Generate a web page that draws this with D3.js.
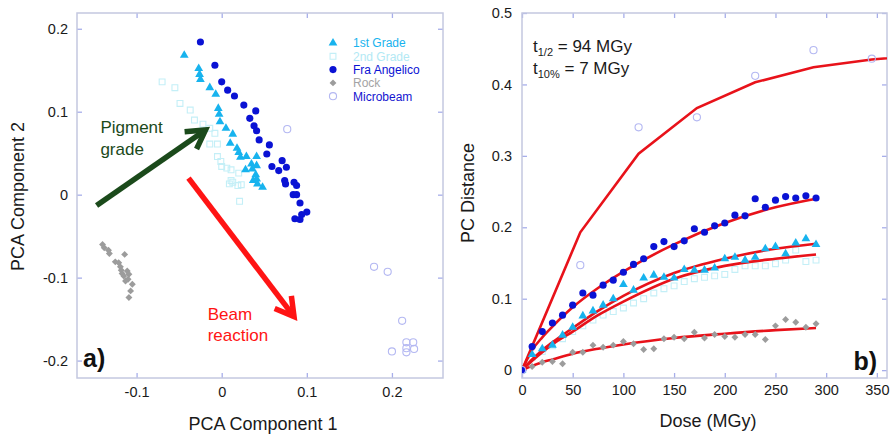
<!DOCTYPE html>
<html>
<head>
<meta charset="utf-8">
<script src="https://cdn.jsdelivr.net/npm/d3@7"></script>
<style>
  html, body { margin: 0; padding: 0; background: #fff; }
  svg { display: block; font-family: "Liberation Sans", Arial, Helvetica, sans-serif; }
</style>
</head>
<body>
<svg id="chart" width="892" height="435"></svg>
<script>
// ---------- Panel a: PCA scores [PC1, PC2] ----------
const firstGradePCA = [[-0.044,0.168],[-0.027,0.152],[-0.026,0.145],[-0.025,0.139],[-0.014,0.129],[-0.007,0.121],
  [-0.004,0.104],[-0.003,0.097],[-0.002,0.088],[0.005,0.080],[0.013,0.073],[0.010,0.062],[0.018,0.056],[0.020,0.051],
  [0.022,0.045],[0.029,0.046],[0.028,0.030],[0.035,0.037],[0.041,0.046],[0.041,0.035],[0.036,0.031],[0.040,0.024],
  [0.037,0.017],[0.041,0.019],[0.042,0.013],[0.048,0.009]];
const secondGradePCA = [[-0.070,0.136],[-0.055,0.129],[-0.049,0.110],[-0.037,0.102],[-0.032,0.090],[-0.022,0.085],
  [-0.014,0.080],[-0.008,0.074],[-0.014,0.061],[-0.005,0.061],[-0.005,0.046],[-0.001,0.040],[0.000,0.034],[0.006,0.032],
  [0.011,0.030],[0.020,0.026],[0.011,0.017],[0.013,0.015],[0.009,0.013],[0.019,0.011],[0.023,0.012],[0.021,-0.008]];
const fraAngelicoPCA = [[-0.025,0.184],[-0.008,0.156],[0.000,0.136],[0.007,0.126],[0.015,0.119],[0.026,0.108],
  [0.040,0.101],[0.033,0.092],[0.038,0.083],[0.041,0.077],[0.044,0.066],[0.056,0.060],[0.053,0.049],[0.071,0.041],
  [0.076,0.033],[0.059,0.034],[0.067,0.029],[0.074,0.017],[0.075,0.013],[0.085,0.015],[0.088,0.011],[0.084,0.000],
  [0.088,0.000],[0.092,-0.010],[0.100,-0.021],[0.094,-0.024],[0.086,-0.029],[0.092,-0.030]];
const rockPCA = [[-0.140,-0.060],[-0.138,-0.064],[-0.133,-0.067],[-0.132,-0.071],[-0.114,-0.072],[-0.125,-0.081],
  [-0.121,-0.082],[-0.119,-0.087],[-0.118,-0.091],[-0.111,-0.092],[-0.117,-0.095],[-0.109,-0.096],[-0.115,-0.098],
  [-0.110,-0.102],[-0.113,-0.104],[-0.105,-0.108],[-0.107,-0.116],[-0.109,-0.124]];
const microbeamPCA = [[0.077,0.079],[0.179,-0.087],[0.195,-0.093],[0.212,-0.152],[0.217,-0.178],[0.225,-0.178],
  [0.217,-0.185],[0.226,-0.186],[0.200,-0.189],[0.217,-0.190]];

const pcaTicksX = [-0.1, 0, 0.1, 0.2];
const pcaTicksY = [-0.2, -0.1, 0, 0.1, 0.2];

// Annotation arrows, in PCA coordinates [start, tip]
const gradeArrow = [[-0.147, -0.013], [-0.019, 0.078]];
const beamArrow = [[-0.039, 0.020], [0.085, -0.147]];

// ---------- Panel b: PC distance vs dose ----------
const doses = [0,10,20,30,40,50,60,70,80,90,100,110,120,130,140,150,160,170,180,190,200,210,220,230,240,250,260,270,280,290];
const fraAngelicoDist = [0,0.033,0.054,0.066,0.077,0.091,0.108,0.105,0.119,0.126,0.137,0.148,0.156,0.173,0.180,0.173,
  0.181,0.198,0.193,0.202,0.206,0.217,0.216,0.240,0.228,0.238,0.243,0.241,0.244,0.241];
const firstGradeDist = [0,0.022,0.030,0.035,0.049,0.060,0.076,0.083,0.091,0.100,0.120,0.112,0.129,0.133,0.130,0.129,
  0.141,0.140,0.140,0.143,0.156,0.158,0.154,0.158,0.170,0.173,0.163,0.178,0.184,0.176];
const secondGradeDist = [0,0.018,0.026,0.034,0.044,0.054,0.062,0.070,0.077,0.082,0.087,0.094,0.100,0.108,0.114,0.118,
  0.124,0.128,0.130,0.132,0.134,0.141,0.146,0.146,0.146,0.149,0.154,0.168,0.152,0.154];
const rockDist = [0,0.005,0.011,0.012,0.009,0.025,0.025,0.035,0.032,0.035,0.040,0.037,0.029,0.030,0.044,0.046,
  0.044,0.053,0.045,0.050,0.047,0.046,0.050,0.050,0.043,0.062,0.071,0.067,0.060,0.065];
const microbeamDoses = [0,57.5,115,172.5,230,287.5,345];
const microbeamDist = [0,0.147,0.340,0.354,0.412,0.448,0.436];

// Fitted dose-response curves
const fitDoses = [0,10,20,30,50,75,100,150,200,250,290];
const fraAngelicoFit = [0,0.028,0.046,0.061,0.088,0.115,0.138,0.176,0.206,0.228,0.240];
const firstGradeFit = [0,0.015,0.028,0.039,0.059,0.083,0.104,0.136,0.156,0.170,0.177];
const secondGradeFit = [0,0.013,0.025,0.036,0.054,0.077,0.096,0.128,0.146,0.156,0.162];
const rockFit = [0,0.006,0.011,0.015,0.023,0.030,0.036,0.045,0.051,0.056,0.059];
const microbeamFitDoses = [0,57.5,115,172.5,230,287.5,345,402.5];
const microbeamFit = [0,0.193,0.303,0.367,0.403,0.424,0.435,0.441];

const doseTicks = [0,50,100,150,200,250,300,350];
const distTicks = [0,0.1,0.2,0.3,0.4,0.5];

const legendLabels = ["1st Grade", "2nd Grade", "Fra Angelico", "Rock", "Microbeam"];

// ---------- styles ----------
const C = {
  first: "#17b3ee", second: "#c4eff7", fra: "#0a12d4", rock: "#9c9c9c", micro: "#b4b8f2",
  frame: "#c4c8e0", tick: "#a7aeea", fit: "#e8121a", green: "#1b4a1b", red: "#ff1414", text: "#1a1a1a"
};
const markerStyle = {
  first:  { type: d3.symbolTriangle, size: 33, fill: C.first,  stroke: "none" },
  second: { type: d3.symbolSquare,   size: 34, fill: "none",   stroke: C.second },
  fra:    { type: d3.symbolCircle,   size: 40, fill: C.fra,    stroke: "none" },
  rock:   { type: d3.symbolSquare,   size: 24, fill: C.rock,   stroke: "none", rotate: 45 },
  micro:  { type: d3.symbolCircle,   size: 40, fill: "none",   stroke: C.micro }
};
const legendKeys = ["first", "second", "fra", "rock", "micro"];
const legendTextColor = [C.first, "#b2e9f4", C.fra, "#a4a4a4", "#1414d0"];

const svg = d3.select("#chart");
const FONT_TICK = 14.5, FONT_TITLE = 18;

function drawMarkers(g, pts, key) {
  const s = markerStyle[key];
  const sym = d3.symbol().type(s.type).size(s.size);
  g.append("g").selectAll("path").data(pts).join("path")
    .attr("d", sym)
    .attr("transform", d => `translate(${d[0]},${d[1]})` + (s.rotate ? ` rotate(${s.rotate})` : ""))
    .attr("fill", s.fill)
    .attr("stroke", s.stroke)
    .attr("stroke-width", 1.1);
}

function drawFrame(box, x, y, xTicks, yTicks, xFmt, yFmt, padX, padY) {
  const g = svg.append("g");
  const style = sel => {
    sel.select(".domain").remove();
    sel.selectAll(".tick line").attr("stroke", C.tick).attr("stroke-width", 1.3);
    sel.selectAll(".tick text").attr("fill", C.text).style("font-size", FONT_TICK + "px");
    sel.attr("font-family", null).attr("font-size", null);
  };
  g.append("g").attr("transform", `translate(0,${box.y1})`)
    .call(d3.axisBottom(x).tickValues(xTicks).tickFormat(xFmt).tickSize(-5).tickPadding(padX)).call(style);
  g.append("g").attr("transform", `translate(0,${box.y0})`)
    .call(d3.axisTop(x).tickValues(xTicks).tickFormat("").tickSize(-5)).call(style);
  g.append("g").attr("transform", `translate(${box.x0},0)`)
    .call(d3.axisLeft(y).tickValues(yTicks).tickFormat(yFmt).tickSize(-5).tickPadding(padY)).call(style);
  g.append("g").attr("transform", `translate(${box.x1},0)`)
    .call(d3.axisRight(y).tickValues(yTicks).tickFormat("").tickSize(-5)).call(style);
  svg.append("rect").attr("x", box.x0).attr("y", box.y0)
    .attr("width", box.x1 - box.x0).attr("height", box.y1 - box.y0)
    .attr("fill", "none").attr("stroke", C.frame).attr("stroke-width", 1.5);
}

function arrow(x, y, pts, color) {
  const [a, b] = pts.map(p => [x(p[0]), y(p[1])]);
  const ang = Math.atan2(a[1] - b[1], a[0] - b[0]);
  const L = 21, spread = Math.PI / 6;
  const w1 = [b[0] + L * Math.cos(ang + spread), b[1] + L * Math.sin(ang + spread)];
  const w2 = [b[0] + L * Math.cos(ang - spread), b[1] + L * Math.sin(ang - spread)];
  const g = svg.append("g").attr("fill", "none").attr("stroke", color).attr("stroke-width", 5.5);
  g.append("path").attr("d", d3.line()([a, b]));
  g.append("path").attr("d", d3.line()([w1, b, w2])).attr("stroke-linejoin", "miter").attr("stroke-miterlimit", 10);
}

// ================= Panel a =================
const boxA = { x0: 77, x1: 443, y0: 13, y1: 378 };
const xA = d3.scaleLinear().domain([-0.17, 0.26]).range([boxA.x0, boxA.x1]);
const yA = d3.scaleLinear().domain([-0.221, 0.219]).range([boxA.y1, boxA.y0]);
const fmtA = d => d === 0 ? "0" : d3.format(".1f")(d).replace("−", "-");

drawFrame(boxA, xA, yA, pcaTicksX, pcaTicksY, fmtA, fmtA, 8.5, 9);

const gA = svg.append("g");
const toA = arr => arr.map(d => [xA(d[0]), yA(d[1])]);
drawMarkers(gA, toA(secondGradePCA), "second");
drawMarkers(gA, toA(rockPCA), "rock");
drawMarkers(gA, toA(microbeamPCA), "micro");
drawMarkers(gA, toA(firstGradePCA), "first");
drawMarkers(gA, toA(fraAngelicoPCA), "fra");

arrow(xA, yA, gradeArrow, C.green);
arrow(xA, yA, beamArrow, C.red);

const annA = svg.append("g").style("font-size", "17px");
annA.append("text").attr("x", xA(-0.1425)).attr("y", yA(0.074)).attr("fill", C.green).text("Pigment");
annA.append("text").attr("x", xA(-0.1425)).attr("y", yA(0.048)).attr("fill", C.green).text("grade");
annA.append("text").attr("x", xA(-0.0165)).attr("y", yA(-0.151)).attr("fill", C.red).text("Beam");
annA.append("text").attr("x", xA(-0.0165)).attr("y", yA(-0.176)).attr("fill", C.red).text("reaction");

// legend
const leg = svg.append("g").attr("transform", `translate(${boxA.x0 + 256},${boxA.y0 + 30})`);
legendKeys.forEach((k, i) => {
  const row = leg.append("g").attr("transform", `translate(0,${i * 13.3})`);
  drawMarkers(row, [[0, 0]], k);
  row.append("text").attr("x", 20).attr("y", 4.3).style("font-size", "12px")
    .attr("fill", legendTextColor[i]).text(legendLabels[i]);
});

svg.append("text").attr("x", 83).attr("y", 367).style("font-size", "25px").style("font-weight", "bold")
  .attr("fill", "#111").text("a)");

svg.append("text").attr("x", (boxA.x0 + boxA.x1) / 2 + 3).attr("y", 430).attr("text-anchor", "middle")
  .style("font-size", FONT_TITLE + "px").attr("fill", C.text).text("PCA Component 1");
svg.append("text").attr("transform", `translate(24,${(boxA.y0 + boxA.y1) / 2 + 1}) rotate(-90)`)
  .attr("text-anchor", "middle").style("font-size", FONT_TITLE + "px").attr("fill", C.text).text("PCA Component 2");

// ================= Panel b =================
const boxB = { x0: 522, x1: 887, y0: 13, y1: 378 };
const xB = d3.scaleLinear().domain([0, 360]).range([boxB.x0, boxB.x1]);
const yB = d3.scaleLinear().domain([-0.011, 0.5]).range([boxB.y1, boxB.y0]);
const fmtB = d => d === 0 ? "0" : d3.format(".1f")(d);

drawFrame(boxB, xB, yB, doseTicks, distTicks, d3.format("d"), fmtB, 7, 10);

svg.append("defs").append("clipPath").attr("id", "clipB").append("rect")
  .attr("x", boxB.x0).attr("y", boxB.y0).attr("width", boxB.x1 - boxB.x0).attr("height", boxB.y1 - boxB.y0);
const gB = svg.append("g").attr("clip-path", "url(#clipB)");

const zipB = (xs, ys) => xs.map((d, i) => [xB(d), yB(ys[i])]);
drawMarkers(gB, zipB(doses, secondGradeDist), "second");

const smooth = d3.line().curve(d3.curveMonotoneX);
const straight = d3.line();
const fits = gB.append("g").attr("fill", "none").attr("stroke", C.fit).attr("stroke-width", 2.6);
fits.append("path").attr("d", straight(zipB(microbeamFitDoses, microbeamFit)));
fits.append("path").attr("d", smooth(zipB(fitDoses, fraAngelicoFit)));
fits.append("path").attr("d", smooth(zipB(fitDoses, firstGradeFit)));
fits.append("path").attr("d", smooth(zipB(fitDoses, secondGradeFit)));
fits.append("path").attr("d", smooth(zipB(fitDoses, rockFit)));

drawMarkers(gB, zipB(doses, rockDist), "rock");
drawMarkers(gB, zipB(doses, firstGradeDist), "first");
drawMarkers(gB, zipB(doses, fraAngelicoDist), "fra");
drawMarkers(gB, zipB(microbeamDoses, microbeamDist), "micro");

// half-dose annotation
const ann = svg.append("g").style("font-size", "17px").attr("fill", C.text);
const t1 = ann.append("text").attr("x", boxB.x0 + 11).attr("y", 52);
t1.append("tspan").text("t");
t1.append("tspan").attr("dy", 4).style("font-size", "11px").text("1/2");
t1.append("tspan").attr("dy", -4).text(" = 94 MGy");
const t2 = ann.append("text").attr("x", boxB.x0 + 11).attr("y", 74);
t2.append("tspan").text("t");
t2.append("tspan").attr("dy", 4).style("font-size", "11px").text("10%");
t2.append("tspan").attr("dy", -4).text(" = 7 MGy");

svg.append("text").attr("x", 877).attr("y", 370).attr("text-anchor", "end").style("font-size", "25px")
  .style("font-weight", "bold").attr("fill", "#111").text("b)");

svg.append("text").attr("x", 708).attr("y", 427).attr("text-anchor", "middle")
  .style("font-size", FONT_TITLE + "px").attr("fill", C.text).text("Dose (MGy)");
svg.append("text").attr("transform", `translate(474,193) rotate(-90)`)
  .attr("text-anchor", "middle").style("font-size", FONT_TITLE + "px").attr("fill", C.text).text("PC Distance");
</script>
</body>
</html>
